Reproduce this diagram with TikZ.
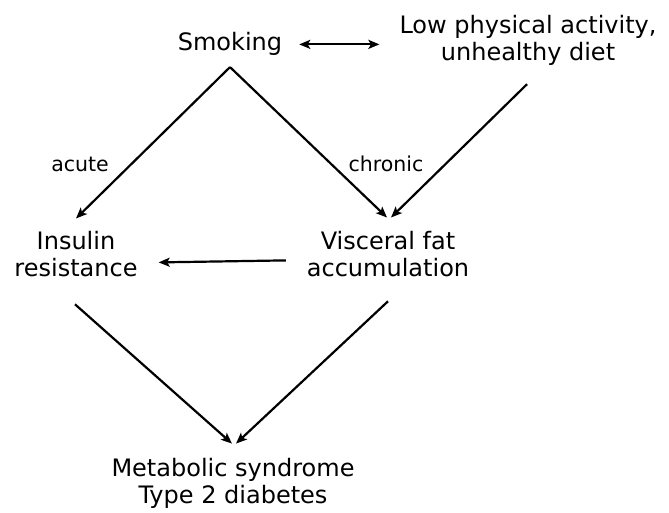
\documentclass[tikz,border=0pt]{standalone}
\usepackage{fontspec}
\setmainfont{DejaVu Sans}
\usetikzlibrary{arrows.meta}
\begin{document}
\begin{tikzpicture}[x=1pt, y=-1pt, line width=2.2pt,
  every node/.style={inner sep=0pt, align=center, font=\fontsize{24}{27}\selectfont},
  lbl/.style={font=\fontsize{20.5}{24}\selectfont},
  arr/.style={-{Stealth[length=11pt, width=9pt, inset=2.5pt]}}]
  \useasboundingbox (0,0) rectangle (669,513);
  % top row
  \node[anchor=base] (smoking) at (230,51) {Smoking};
  \node (lifestyle) at (528,40) {Low physical activity,\\unhealthy diet};
  % middle row
  \node (insulin) at (76,254.4) {Insulin\\resistance};
  \node (visceral) at (388,254.4) {Visceral fat\\accumulation};
  % outcome
  \node (metab) at (233,483.8) {Metabolic syndrome\\Type 2 diabetes};
  % Smoking <-> lifestyle
  \draw[{Stealth[length=11pt, width=9pt, inset=2.5pt]}-{Stealth[length=11pt, width=9pt, inset=2.5pt]},
        shorten <=16pt, shorten >=19pt] (smoking.east) -- (smoking.east -| lifestyle.west);
  % acute and chronic effects of smoking
  \draw[arr] ([yshift=-10pt]smoking.south) -- ([yshift=12pt]insulin.north);
  \draw[arr] ([yshift=-10pt]smoking.south) -- ([xshift=-1pt, yshift=13pt]visceral.north);
  \draw[arr] ([xshift=-1pt, yshift=-18pt]lifestyle.south) -- ([xshift=3pt, yshift=13pt]visceral.north);
  \node[lbl, anchor=base] (acute) at (80,172) {acute};
  \node[lbl, anchor=base] (chronic) at (386,172) {chronic};
  % visceral fat -> insulin resistance
  \draw[arr] ([xshift=-20pt, yshift=-6pt]visceral.west) -- ([xshift=20pt, yshift=-8pt]insulin.east);
  % both lead to the outcome
  \draw[arr] ([xshift=-1pt, yshift=-26pt]insulin.south) -- ([xshift=-1pt, yshift=14pt]metab.north);
  \draw[arr] ([yshift=-23pt]visceral.south) -- ([xshift=3pt, yshift=14pt]metab.north);
\end{tikzpicture}
\end{document}
